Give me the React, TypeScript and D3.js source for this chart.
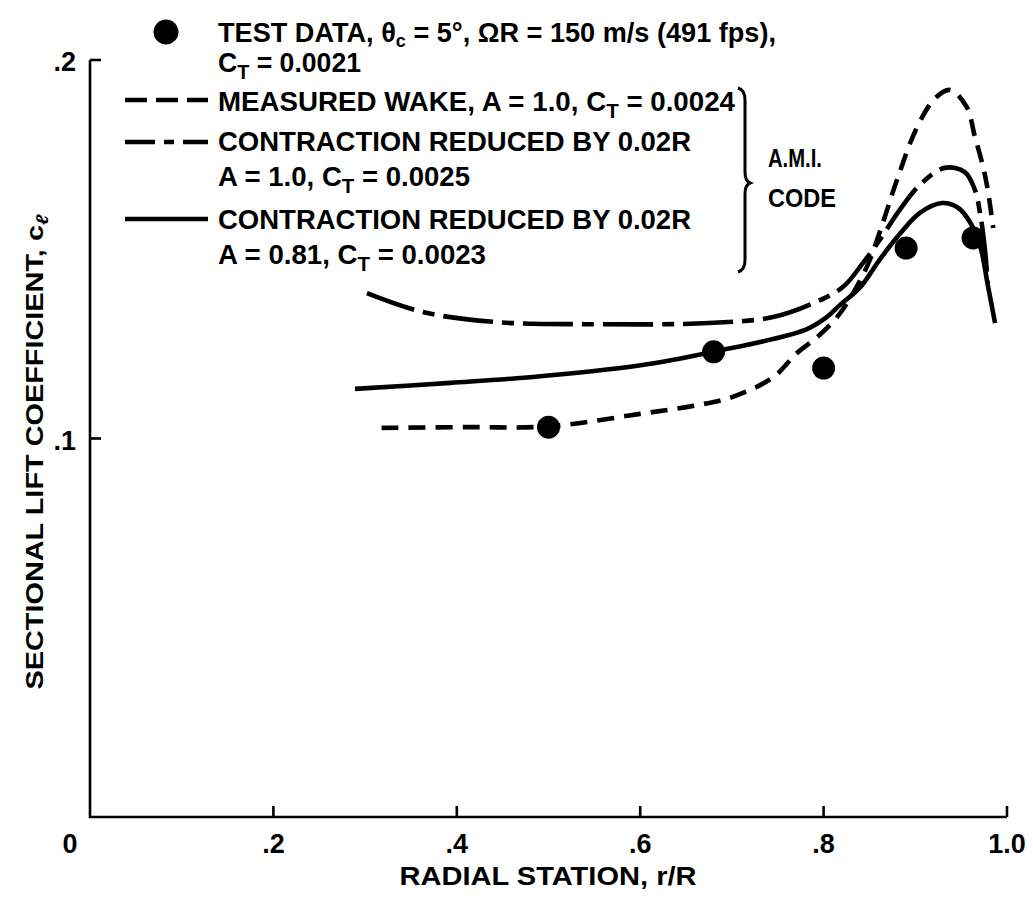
import React from "react";
import * as d3 from "d3";

// ---- data ----
const xTicks = [0.2, 0.4, 0.6, 0.8, 1.0];
const xTickLabels = [".2", ".4", ".6", ".8", "1.0"];
const yTicks = [0.1, 0.2];
const yTickLabels = [".1", ".2"];

const testX = [0.5, 0.68, 0.8, 0.89, 0.963];
const testY = [0.103, 0.1229, 0.1186, 0.1503, 0.153];

const wakeX = [0.318, 0.41, 0.5, 0.6, 0.662, 0.701, 0.745, 0.771, 0.793, 0.818, 0.847, 0.862, 0.88, 0.902, 0.922, 0.938, 0.956, 0.965, 0.974, 0.979, 0.985];
const wakeY = [0.1028, 0.103, 0.1032, 0.1065, 0.1088, 0.111, 0.1162, 0.1226, 0.1268, 0.1331, 0.1453, 0.1551, 0.1683, 0.1823, 0.19, 0.1921, 0.1876, 0.1797, 0.1717, 0.1657, 0.1556];

const contrAX = [0.302, 0.363, 0.441, 0.542, 0.675, 0.745, 0.792, 0.821, 0.843, 0.861, 0.883, 0.905, 0.932, 0.954, 0.965, 0.971, 0.976, 0.979];
const contrAY = [0.1384, 0.1334, 0.1308, 0.1302, 0.1305, 0.1321, 0.1361, 0.14, 0.1464, 0.1524, 0.1604, 0.167, 0.1715, 0.1704, 0.1657, 0.159, 0.1498, 0.141];

const contrBX = [0.289, 0.393, 0.48, 0.597, 0.68, 0.78, 0.802, 0.818, 0.84, 0.861, 0.883, 0.905, 0.929, 0.947, 0.96, 0.971, 0.979, 0.987];
const contrBY = [0.1131, 0.1147, 0.1162, 0.1192, 0.1229, 0.1287, 0.1318, 0.1353, 0.14, 0.1472, 0.154, 0.1596, 0.1622, 0.1609, 0.157, 0.1506, 0.1406, 0.1305];

const FONT = "'Liberation Sans Narrow', 'Arial Narrow', 'Liberation Sans', Arial, sans-serif";

export default function App() {
  const W = 1033, H = 901;
  const x = d3.scaleLinear().domain([0, 1]).range([90, 1007]);
  const y = d3.scaleLinear().domain([0, 0.2]).range([817, 60]);

  const line = d3
    .line<[number, number]>()
    .x((d) => x(d[0]))
    .y((d) => y(d[1]))
    .curve(d3.curveCatmullRom.alpha(0.5));

  const zip = (a: number[], b: number[]) => a.map((v, i) => [v, b[i]] as [number, number]);

  const ink = "#000";
  const curveW = 4.6;
  const fs = 27;

  return (
    <svg width={W} height={H} style={{ position: "absolute", left: 0, top: 0, background: "#fff" }}
      fontFamily={FONT} fontWeight="bold" fill={ink}>
      <rect x={0} y={0} width={W} height={H} fill="#fff" />
      {/* axes */}
      <path d={`M${x(0)},${y(0.2)} L${x(0)},${y(0)} L${x(1)},${y(0)}`} fill="none" stroke={ink} strokeWidth={2.6} />
      {yTicks.map((t) => (
        <line key={"yt" + t} x1={x(0)} x2={x(0) + 11} y1={y(t)} y2={y(t)} stroke={ink} strokeWidth={2.6} />
      ))}
      {xTicks.map((t) => (
        <line key={"xt" + t} x1={x(t)} x2={x(t)} y1={y(0)} y2={y(0) - 11} stroke={ink} strokeWidth={2.6} />
      ))}
      {/* tick labels */}
      <text x={70} y={853} fontSize={fs} textAnchor="middle">0</text>
      {xTicks.map((t, i) => (
        <text key={"xl" + t} x={x(t)} y={853} fontSize={fs} textAnchor="middle">{xTickLabels[i]}</text>
      ))}
      {yTicks.map((t, i) => (
        <text key={"yl" + t} x={76} y={y(t) + 11} fontSize={fs} textAnchor="end">{yTickLabels[i]}</text>
      ))}
      {/* axis titles */}
      <text x={548} y={885} fontSize={25} textAnchor="middle" textLength={297} lengthAdjust="spacingAndGlyphs">
        RADIAL STATION, r/R
      </text>
      <text transform="translate(43,452) rotate(-90)" fontSize={24} textAnchor="middle" textLength={475} lengthAdjust="spacingAndGlyphs">
        SECTIONAL LIFT COEFFICIENT, c<tspan fontSize={17} dy={5} fontStyle="italic">ℓ</tspan>
      </text>

      {/* curves */}
      <path d={line(zip(wakeX, wakeY)) || ""} fill="none" stroke={ink} strokeWidth={curveW} strokeDasharray="17 10" />
      <path d={line(zip(contrAX, contrAY)) || ""} fill="none" stroke={ink} strokeWidth={curveW} strokeDasharray="50 9 12 9" />
      <path d={line(zip(contrBX, contrBY)) || ""} fill="none" stroke={ink} strokeWidth={curveW} />
      {testX.map((v, i) => (
        <circle key={"p" + i} cx={x(v)} cy={y(testY[i])} r={11.5} fill={ink} />
      ))}

      {/* legend */}
      <circle cx={166} cy={32} r={12.5} fill={ink} />
      <text x={218} y={42} fontSize={fs} textLength={558} lengthAdjust="spacingAndGlyphs">
        TEST DATA, θ<tspan fontSize={18} dy={5}>c</tspan><tspan dy={-5}> = 5°, ΩR = 150 m/s (491 fps),</tspan>
      </text>
      <text x={218} y={72} fontSize={fs} textLength={143} lengthAdjust="spacingAndGlyphs">
        C<tspan fontSize={20} dy={7}>T</tspan><tspan dy={-7}> = 0.0021</tspan>
      </text>

      <line x1={125} x2={208} y1={100} y2={100} stroke={ink} strokeWidth={curveW} strokeDasharray="22 9" />
      <text x={218} y={111} fontSize={fs} textLength={517} lengthAdjust="spacingAndGlyphs">
        MEASURED WAKE, A = 1.0, C<tspan fontSize={20} dy={7}>T</tspan><tspan dy={-7}> = 0.0024</tspan>
      </text>

      <line x1={125} x2={208} y1={142} y2={142} stroke={ink} strokeWidth={curveW} strokeDasharray="30 9 10 9 30" />
      <text x={218} y={151} fontSize={fs} textLength={473} lengthAdjust="spacingAndGlyphs">
        CONTRACTION REDUCED BY 0.02R
      </text>
      <text x={218} y={186} fontSize={fs} textLength={252} lengthAdjust="spacingAndGlyphs">
        A = 1.0, C<tspan fontSize={20} dy={7}>T</tspan><tspan dy={-7}> = 0.0025</tspan>
      </text>

      <line x1={125} x2={208} y1={219} y2={219} stroke={ink} strokeWidth={curveW} />
      <text x={218} y={229} fontSize={fs} textLength={473} lengthAdjust="spacingAndGlyphs">
        CONTRACTION REDUCED BY 0.02R
      </text>
      <text x={218} y={264} fontSize={fs} textLength={268} lengthAdjust="spacingAndGlyphs">
        A = 0.81, C<tspan fontSize={20} dy={7}>T</tspan><tspan dy={-7}> = 0.0023</tspan>
      </text>

      {/* brace */}
      <path d="M738,88 Q745,90 745,100 L745,172 Q745,181 750,183 Q745,185 745,194 L745,260 Q745,270 738,272"
        fill="none" stroke={ink} strokeWidth={3} />
      <text x={768} y={167} fontSize={25} textLength={54} lengthAdjust="spacingAndGlyphs">A.M.I.</text>
      <text x={768} y={207} fontSize={25} textLength={68} lengthAdjust="spacingAndGlyphs">CODE</text>
    </svg>
  );
}
